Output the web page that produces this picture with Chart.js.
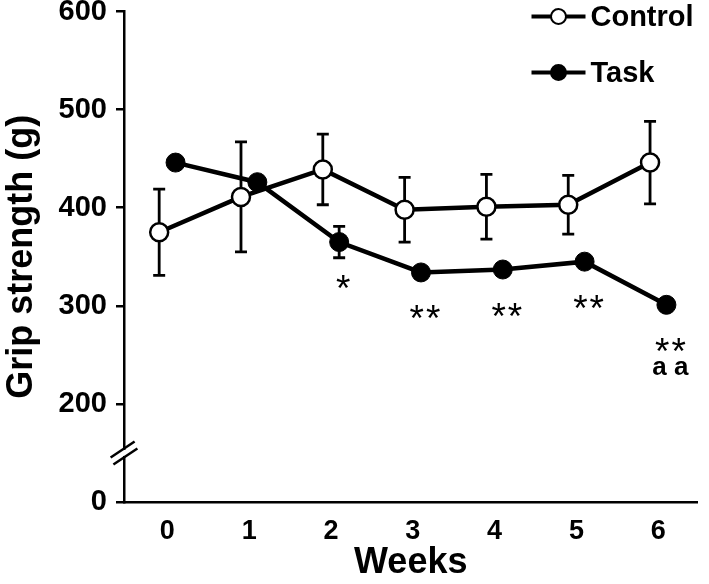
<!DOCTYPE html>
<html>
<head>
<meta charset="utf-8">
<script src="https://cdn.jsdelivr.net/npm/chart.js@4.4.0/dist/chart.umd.min.js"></script>
<style>
  html, body { margin: 0; padding: 0; background: #fff; }
  #wrap { width: 709px; height: 584px; }
</style>
</head>
<body>
<div id="wrap"><canvas id="grafico" width="709" height="584"></canvas></div>
<script>
// Datos
const semanas = [0, 1, 2, 3, 4, 5, 6];
const controlMedia = [375, 411, 439, 398, 401, 403, 446];
const controlError = [44, 56, 36, 33, 33, 30, 42];
const tareaMedia = [446, 426, 365, 334, 337, 345, 301];
const tareaError = [0, 0, 16, 5, 6, 6, 0];
const marcasSig = ['', '', '*', '**', '**', '**', '**'];
const marcasGrupo = ['', '', '', '', '', '', 'a a'];
// el eje está cortado: el valor interno 100 se muestra como 0
const ticksY = [100, 200, 300, 400, 500, 600];
const etiquetasY = ['0', '200', '300', '400', '500', '600'];
const corteY = 150;

const fuente = '"Liberation Sans", Arial, sans-serif';
const desplaz = 0.1;

// --- barras de error ---
const barrasError = {
  id: 'barrasError',
  beforeDatasetsDraw(chart) {
    const c = chart.ctx;
    const sx = chart.scales.x, sy = chart.scales.y;
    c.save();
    c.strokeStyle = '#000';
    c.lineWidth = 2.8;
    chart.data.datasets.forEach(ds => {
      ds.data.forEach((p, i) => {
        const e = ds.errores[i];
        if (!e) return;
        const x = sx.getPixelForValue(p.x);
        const y1 = sy.getPixelForValue(p.y + e);
        const y2 = sy.getPixelForValue(p.y - e);
        c.beginPath();
        c.moveTo(x, y1); c.lineTo(x, y2);
        c.moveTo(x - 6, y1); c.lineTo(x + 6, y1);
        c.moveTo(x - 6, y2); c.lineTo(x + 6, y2);
        c.stroke();
      });
    });
    c.restore();
  }
};

// --- corte del eje Y ---
const corteEje = {
  id: 'corteEje',
  afterDraw(chart) {
    const c = chart.ctx;
    const x = chart.chartArea.left;
    const y = chart.scales.y.getPixelForValue(corteY);
    c.save();
    c.fillStyle = '#fff';
    c.fillRect(x - 3, y - 3, 6, 6);
    c.strokeStyle = '#000';
    c.lineWidth = 2.5;
    [-3.5, 3.5].forEach(d => {
      c.beginPath();
      c.moveTo(x - 12 + d * 0.4, y + d + 8);
      c.lineTo(x + 12 + d * 0.4, y + d - 8);
      c.stroke();
    });
    c.restore();
  }
};

// --- asteriscos y letras ---
const marcas = {
  id: 'marcas',
  afterDatasetsDraw(chart) {
    const c = chart.ctx;
    const sx = chart.scales.x, sy = chart.scales.y;
    c.save();
    c.fillStyle = '#000';
    c.textAlign = 'center';
    c.textBaseline = 'alphabetic';
    semanas.forEach((s, i) => {
      const x = sx.getPixelForValue(s + desplaz) + 4;
      const y = sy.getPixelForValue(tareaMedia[i]);
      if (marcasSig[i]) {
        c.font = '37px ' + fuente;
        c.letterSpacing = '2px';
        c.fillText(marcasSig[i], x + 1, y + 59);
      }
      if (marcasGrupo[i]) {
        c.font = 'bold 26px ' + fuente;
        c.letterSpacing = '0px';
        c.fillText(marcasGrupo[i], x, y + 70);
      }
    });
    c.restore();
  }
};

// --- leyenda ---
const leyenda = {
  id: 'leyenda',
  afterDraw(chart) {
    const c = chart.ctx;
    const a = chart.chartArea;
    const x0 = a.right - 166;
    c.save();
    chart.data.datasets.forEach((ds, i) => {
      const y = a.top + 5 + i * 56;
      c.strokeStyle = '#000';
      c.lineWidth = 4;
      c.beginPath(); c.moveTo(x0, y); c.lineTo(x0 + 54, y); c.stroke();
      c.beginPath();
      c.arc(x0 + 27, y, 7.5, 0, Math.PI * 2);
      c.fillStyle = ds.pointBackgroundColor;
      c.fill();
      c.lineWidth = 2;
      c.stroke();
      c.fillStyle = '#000';
      c.font = 'bold 29px ' + fuente;
      c.textAlign = 'left';
      c.textBaseline = 'middle';
      c.fillText(ds.label, x0 + 59, y + 1);
    });
    c.restore();
  }
};

const ctx = document.getElementById('grafico').getContext('2d');
const grafico = new Chart(ctx, {
  type: 'line',
  data: {
    datasets: [
      {
        label: 'Control',
        data: semanas.map((s, i) => ({ x: s - desplaz, y: controlMedia[i] })),
        errores: controlError,
        borderColor: '#000',
        borderWidth: 4.5,
        pointRadius: 9,
        pointBorderWidth: 2.5,
        pointBackgroundColor: '#fff',
        pointBorderColor: '#000',
        tension: 0
      },
      {
        label: 'Task',
        data: semanas.map((s, i) => ({ x: s + desplaz, y: tareaMedia[i] })),
        errores: tareaError,
        borderColor: '#000',
        borderWidth: 4.5,
        pointRadius: 9.5,
        pointBorderWidth: 1,
        pointBackgroundColor: '#000',
        pointBorderColor: '#000',
        tension: 0
      }
    ]
  },
  options: {
    responsive: false,
    animation: false,
    layout: { padding: { top: 11, right: 0, left: 0, bottom: 0 } },
    plugins: { legend: { display: false }, tooltip: { enabled: false } },
    scales: {
      x: {
        type: 'linear',
        min: -0.53,
        max: 6.48,
        grid: { drawOnChartArea: false, drawTicks: false },
        border: { color: '#000', width: 2.5 },
        afterBuildTicks: s => { s.ticks = semanas.map(v => ({ value: v })); },
        ticks: {
          color: '#000',
          font: { family: fuente, size: 27, weight: 'bold' },
          padding: 13,
          autoSkip: false,
          maxRotation: 0
        },
        title: {
          display: true,
          text: 'Weeks',
          color: '#000',
          font: { family: fuente, size: 36, weight: 'bold' },
          padding: { top: 0, bottom: -1 }
        },
        afterFit: s => { s.height = 82; s.paddingLeft = 0; s.paddingRight = 0; }
      },
      y: {
        min: 100,
        max: 600,
        grid: { drawOnChartArea: false, drawTicks: true, tickLength: 8, color: '#000', lineWidth: 2.5 },
        border: { color: '#000', width: 2.5 },
        afterBuildTicks: s => { s.ticks = ticksY.map(v => ({ value: v })); },
        ticks: {
          color: '#000',
          font: { family: fuente, size: 29, weight: 'bold' },
          padding: 9,
          callback: v => etiquetasY[ticksY.indexOf(v)]
        },
        title: {
          display: true,
          text: 'Grip strength (g)',
          color: '#000',
          font: { family: fuente, size: 36, weight: 'bold' },
          padding: { top: 0, bottom: 0 }
        },
        afterFit: s => { s.width = 124; s.paddingTop = 0; s.paddingBottom = 0; }
      }
    }
  },
  plugins: [barrasError, marcas, corteEje, leyenda]
});
</script>
</body>
</html>
